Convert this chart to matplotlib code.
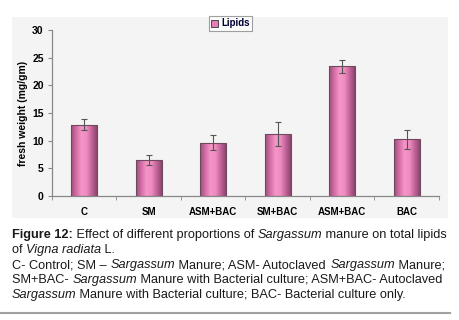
import matplotlib
matplotlib.use("Agg")
import matplotlib.pyplot as plt
import numpy as np
from matplotlib.colors import LinearSegmentedColormap
from matplotlib.patches import Rectangle
from matplotlib.lines import Line2D
from matplotlib.font_manager import FontProperties, findfont, get_font

# data
categories = ["C", "SM", "ASM+BAC", "SM+BAC", "ASM+BAC", "BAC"]
lipids = [12.9, 6.45, 9.6, 11.2, 23.45, 10.25]
errors = [0.95, 0.9, 1.35, 2.15, 1.15, 1.75]
yticks = [0, 5, 10, 15, 20, 25, 30]

plt.rcParams['font.family'] = ['Liberation Sans', 'DejaVu Sans']

W, H = 460, 320
fig = plt.figure(figsize=(W / 100, H / 100), dpi=100)
fig.patch.set_facecolor("white")

def fx(px):
    return px / W

def fy(py):
    return 1 - py / H

# gray chart panel
fig.patches.append(Rectangle((fx(12), fy(218)), fx(448) - fx(12), fy(17) - fy(218),
                             transform=fig.transFigure, facecolor="#f4f4f4",
                             edgecolor="none", zorder=-10))

ax = fig.add_axes([fx(52), fy(196), fx(439) - fx(52), fy(30) - fy(196)])
ax.set_facecolor("none")

x = np.arange(len(categories))
width = 0.4
bars = ax.bar(x, lipids, width, color="none", edgecolor="#6e4a5e", linewidth=0.8, zorder=3)

# cylinder-like shading on each bar
cmap = LinearSegmentedColormap.from_list(
    "pinkbar", ["#9c4f7c", "#d46ea6", "#f595c8", "#f08cc0", "#c2649a", "#8e4670"])
grad = np.linspace(0, 1, 64).reshape(1, -1)
for b in bars:
    im = ax.imshow(grad, cmap=cmap, aspect="auto", zorder=2, interpolation="bilinear",
                   extent=[b.get_x(), b.get_x() + b.get_width(), 0, b.get_height()])
    im.set_clip_path(b)

ax.errorbar(x, lipids, yerr=errors, fmt="none", ecolor="#555555",
            elinewidth=0.8, capsize=2.5, capthick=0.8, zorder=4)

ax.set_xlim(-0.5, len(categories) - 0.5)
ax.set_ylim(0, 30)
ax.set_yticks(yticks)
ax.set_xticks(x)
ax.set_xticklabels(categories, fontsize=7, fontweight="bold")
ax.set_xticks(np.arange(-0.5, len(categories)), minor=True)
ax.tick_params(axis="x", which="major", length=0, pad=8)
ax.tick_params(axis="x", which="minor", length=3, color="#888888", direction="out")
ax.tick_params(axis="y", length=3, color="#888888", labelsize=7.5, pad=3)
for lab in ax.get_yticklabels():
    lab.set_fontweight("bold")
for s in ["top", "right"]:
    ax.spines[s].set_visible(False)
for s in ["left", "bottom"]:
    ax.spines[s].set_color("#888888")
    ax.spines[s].set_linewidth(0.9)
ax.set_ylabel("fresh weight (mg/gm)", fontsize=7.5, fontweight="bold", labelpad=3)

handle = Rectangle((0, 0), 1, 1, facecolor="#e87cb4", edgecolor="#333333", linewidth=0.6)
leg = fig.legend([handle], ["Lipids"], loc="center", bbox_to_anchor=(fx(230.5), fy(23.5)),
                 fontsize=7, frameon=True, fancybox=False, handlelength=0.7,
                 handleheight=0.7, handletextpad=0.3, borderpad=0.25, borderaxespad=0)
leg.get_frame().set_edgecolor("#888888")
leg.get_frame().set_linewidth(0.8)
for t in leg.get_texts():
    t.set_fontweight("bold")
    t.set_color("#000033")

# caption with mixed styles
caption = [
    [("Figure 12:", "bold"), (" Effect of different proportions of ", "normal"),
     ("Sargassum", "italic"), (" manure on total lipids", "normal")],
    [("of ", "normal"), ("Vigna radiata", "italic"), (" L.", "normal")],
    [("C- Control; SM \u2013 ", "normal"), ("Sargassum", "italic"),
     (" Manure; ASM- Autoclaved ", "normal"), ("Sargassum", "italic"), (" Manure;", "normal")],
    [("SM+BAC- ", "normal"), ("Sargassum", "italic"),
     (" Manure with Bacterial culture; ASM+BAC- Autoclaved", "normal")],
    [("Sargassum", "italic"), (" Manure with Bacterial culture; BAC- Bacterial culture only.", "normal")],
]
baselines = [238, 253, 268, 283, 298]

def style_kw(style):
    kw = {}
    if style == "bold":
        kw["weight"] = "bold"
    if style == "italic":
        kw["style"] = "italic"
    return kw

def advance(s, style, size):
    prop = FontProperties(family="Liberation Sans", **style_kw(style))
    font = get_font(findfont(prop))
    font.set_size(size, 100)
    return sum(font.load_char(ord(c)).linearHoriAdvance for c in s) / 65536

# size the caption so its first line fills the panel width
ref = sum(advance(s, st, 10) for s, st in caption[0])
cap_size = 10 * 436 / ref

for line, base in zip(caption, baselines):
    px = 12
    for s, style in line:
        fig.text(fx(px), fy(base), s, ha="left", va="baseline", color="#1a1a1a",
                 fontsize=cap_size, **style_kw(style))
        px += advance(s, style, cap_size)

fig.add_artist(Line2D([0, fx(450)], [fy(313), fy(313)], transform=fig.transFigure,
                      color="#a0a0a0", linewidth=1.5))

fig.savefig("out.png", dpi=100)
